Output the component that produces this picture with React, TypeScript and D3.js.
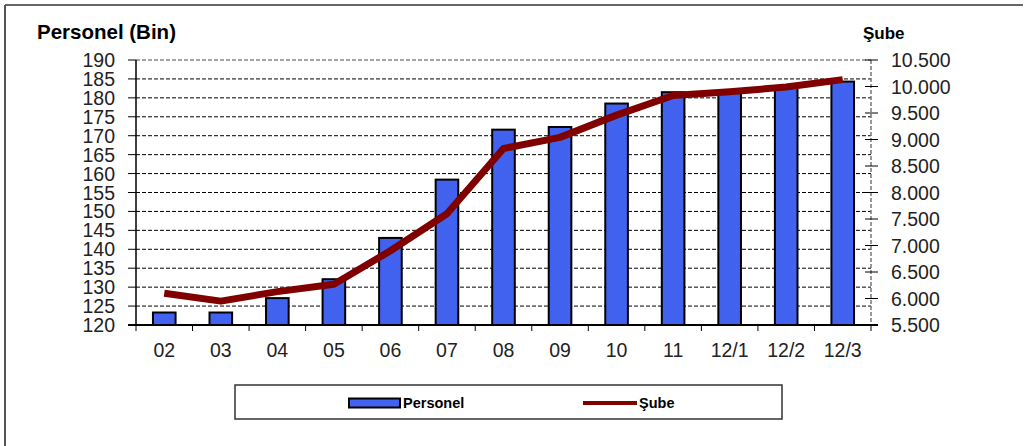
import React from 'react';
import * as d3 from 'd3';

// Personel (bin kişi) ve şube sayısı, dönem bazında
const categories = ['02', '03', '04', '05', '06', '07', '08', '09', '10', '11', '12/1', '12/2', '12/3'];
const personel = [123.3, 123.3, 127.1, 132.1, 143.0, 158.4, 171.6, 172.3, 178.5, 181.5, 181.6, 183.1, 184.3];
const sube = [6100, 5950, 6130, 6270, 6900, 7600, 8830, 9040, 9460, 9830, 9900, 9990, 10130];

const leftTicks = [120, 125, 130, 135, 140, 145, 150, 155, 160, 165, 170, 175, 180, 185, 190];
const rightTicks = [5500, 6000, 6500, 7000, 7500, 8000, 8500, 9000, 9500, 10000, 10500];

const W = 1030;
const H = 446;
const plot = { left: 136, right: 871, top: 60, bottom: 325 };

const trLocale = d3.formatLocale({ decimal: ',', thousands: '.', grouping: [3], currency: ['', ''] });
const fmtRight = trLocale.format(',d');

const FONT = '"Liberation Sans", Arial, sans-serif';

export default function App() {
  const x = d3.scaleBand<string>()
    .domain(categories)
    .range([plot.left, plot.right])
    .paddingInner(0.6)
    .paddingOuter(0.3);
  const step = x.step();
  const yLeft = d3.scaleLinear().domain([120, 190]).range([plot.bottom, plot.top]);
  const yRight = d3.scaleLinear().domain([5500, 10500]).range([plot.bottom, plot.top]);

  const center = (c: string) => (x(c) as number) + x.bandwidth() / 2;

  const line = d3.line<number>()
    .x((_, i) => center(categories[i]))
    .y(d => yRight(d));

  // category boundaries for the bottom-axis tick marks
  const boundaries = categories.map((_, i) => plot.left + i * step).concat([plot.right]);

  return (
    <svg width={W} height={H} style={{ position: 'absolute', left: 0, top: 0, background: '#fff' }}>
      <defs>
        <pattern id="dots" width="4" height="4" patternUnits="userSpaceOnUse">
          <rect width="4" height="4" fill="#4262f0" />
          <rect x="1" y="1" width="1" height="1" fill="#e02a4a" opacity="0.6" />
          <rect x="3" y="3" width="1" height="1" fill="#e02a4a" opacity="0.6" />
        </pattern>
      </defs>

      {/* outer frame */}
      <line x1={5} y1={5} x2={1023} y2={5} stroke="#333" strokeWidth={1.5} />
      <line x1={5} y1={5} x2={5} y2={H} stroke="#555" strokeWidth={2} />

      {/* titles */}
      <text x={37} y={39} fontFamily={FONT} fontWeight="bold" fontSize={20.5} fill="#000">Personel (Bin)</text>
      <text x={863} y={39} fontFamily={FONT} fontWeight="bold" fontSize={17} fill="#000">Şube</text>

      {/* grid */}
      {leftTicks.filter(t => t !== 120 && t !== 190).map(t => (
        <line key={t} x1={plot.left} x2={plot.right} y1={yLeft(t)} y2={yLeft(t)}
          stroke="#000" strokeWidth={1} strokeDasharray="4,2" />
      ))}
      {/* plot border top + right (gray dashed) */}
      <line x1={plot.left} x2={plot.right} y1={yLeft(190)} y2={yLeft(190)} stroke="#888" strokeWidth={1.5} strokeDasharray="4,2" />
      <line x1={plot.right} x2={plot.right} y1={plot.top} y2={plot.bottom} stroke="#777" strokeWidth={1.5} strokeDasharray="4,2" />

      {/* bars */}
      {categories.map((c, i) => (
        <rect key={c} x={x(c)} y={yLeft(personel[i])} width={x.bandwidth()}
          height={plot.bottom - yLeft(personel[i])}
          fill="url(#dots)" stroke="#000" strokeWidth={2} />
      ))}

      {/* Şube line */}
      <path d={line(sube) || ''} fill="none" stroke="#800000" strokeWidth={7}
        strokeLinejoin="round" strokeLinecap="butt" />

      {/* left axis */}
      <line x1={plot.left} x2={plot.left} y1={plot.top} y2={plot.bottom} stroke="#000" strokeWidth={1.5} />
      {leftTicks.map(t => (
        <g key={t}>
          <line x1={plot.left - 8} x2={plot.left} y1={yLeft(t)} y2={yLeft(t)} stroke="#000" strokeWidth={1} />
          <text x={115} y={yLeft(t)} dy="0.36em" textAnchor="end" fontFamily={FONT} fontSize={19.5} fill="#222">{t}</text>
        </g>
      ))}

      {/* right axis */}
      {rightTicks.map(t => (
        <g key={t}>
          <line x1={plot.right - 6} x2={plot.right + 7} y1={yRight(t)} y2={yRight(t)} stroke="#000" strokeWidth={1} />
          <text x={891} y={yRight(t)} dy="0.36em" fontFamily={FONT} fontSize={19.5} fill="#222">{fmtRight(t)}</text>
        </g>
      ))}

      {/* bottom axis */}
      <line x1={plot.left - 8} x2={plot.right + 7} y1={plot.bottom} y2={plot.bottom} stroke="#000" strokeWidth={2} />
      {boundaries.map((b, i) => (
        <line key={i} x1={b} x2={b} y1={plot.bottom} y2={plot.bottom + 6} stroke="#000" strokeWidth={1} />
      ))}
      {categories.map(c => (
        <text key={c} x={center(c)} y={357} textAnchor="middle" fontFamily={FONT} fontSize={19.5} fill="#222">{c}</text>
      ))}

      {/* legend */}
      <rect x={235} y={385} width={547} height={34} fill="#fff" stroke="#333" strokeWidth={1.5} />
      <rect x={349} y={398.5} width={51} height={9} fill="url(#dots)" stroke="#000" strokeWidth={2} />
      <text x={403} y={408} fontFamily={FONT} fontWeight="bold" fontSize={14.5} fill="#000">Personel</text>
      <line x1={583} x2={637} y1={403} y2={403} stroke="#800000" strokeWidth={4} />
      <text x={639} y={408} fontFamily={FONT} fontWeight="bold" fontSize={14.5} fill="#000">Şube</text>
    </svg>
  );
}
